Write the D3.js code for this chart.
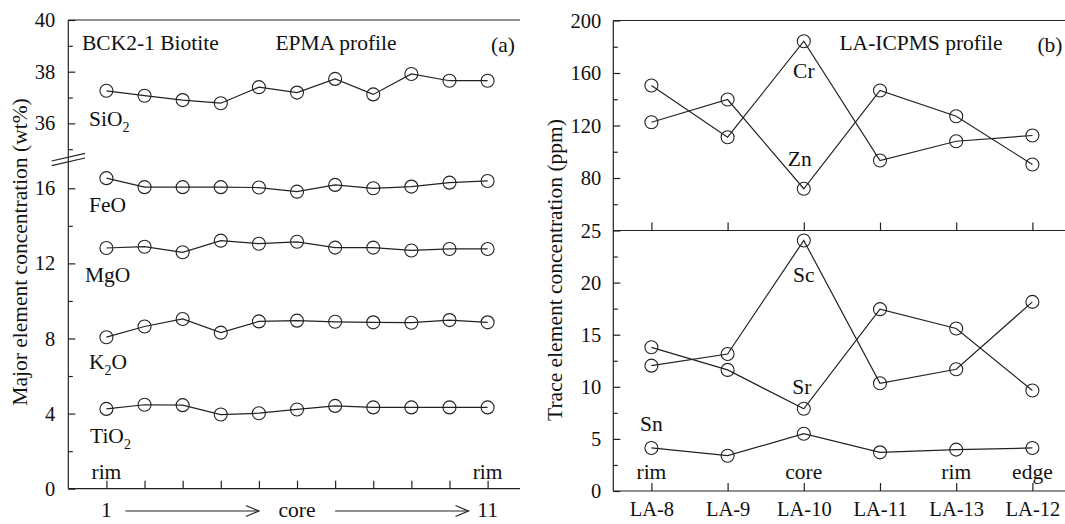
<!DOCTYPE html>
<html>
<head>
<meta charset="utf-8">
<script src="https://cdn.jsdelivr.net/npm/d3@7"></script>
<style>
  body { margin: 0; background: #fff; }
  svg { display: block; font-family: "Liberation Serif", "Times New Roman", serif; }
  .axis path, .axis line { stroke: #222; stroke-width: 1.2; }
  .axis text { font-size: 20.5px; fill: #111; font-family: "Liberation Serif", serif; }
  .series { fill: none; stroke: #222; stroke-width: 1.2; }
  .dot { fill: none; stroke: #222; stroke-width: 1.1; }
  .lbl { font-size: 21.5px; fill: #111; }
</style>
</head>
<body>
<div id="chart"></div>
<script>
// panel (a) - EPMA profile, points 1..11
const points = d3.range(1, 12);
const sio2 = [37.26, 37.07, 36.90, 36.78, 37.40, 37.19, 37.72, 37.12, 37.91, 37.65, 37.65];
const feo  = [16.54, 16.06, 16.06, 16.06, 16.04, 15.82, 16.18, 16.00, 16.09, 16.30, 16.39];
const mgo  = [12.82, 12.89, 12.59, 13.21, 13.05, 13.15, 12.84, 12.84, 12.69, 12.77, 12.77];
const k2o  = [8.07, 8.64, 9.04, 8.31, 8.91, 8.95, 8.89, 8.86, 8.84, 8.98, 8.86];
const tio2 = [4.25, 4.47, 4.45, 3.95, 4.02, 4.22, 4.41, 4.33, 4.33, 4.33, 4.33];

// panel (b) - LA-ICPMS profile
const spots = ['LA-8', 'LA-9', 'LA-10', 'LA-11', 'LA-13', 'LA-12'];
const cr = [150.5, 111.1, 184.2, 93.3, 108.0, 112.4];
const zn = [122.5, 139.8, 71.8, 146.7, 127.1, 90.3];
const sc = [12.03, 13.15, 24.04, 10.34, 11.68, 18.15];
const sr = [13.79, 11.62, 7.89, 17.45, 15.60, 9.64];
const sn = [4.13, 3.39, 5.50, 3.71, 3.97, 4.13];

const W = 1065, H = 524;
const svg = d3.select('#chart').append('svg')
    .attr('width', W)
    .attr('height', H);

const R = 6.5;

function drawSeries(g, xs, x, y, vals) {
    const data = xs.map((d, i) => ({ x: d, v: vals[i] }));
    g.append('path')
        .datum(data)
        .attr('class', 'series')
        .attr('d', d3.line().x(d => x(d.x)).y(d => y(d.v)));
    g.selectAll(null)
        .data(data)
        .enter().append('circle')
        .attr('class', 'dot')
        .attr('cx', d => x(d.x))
        .attr('cy', d => y(d.v))
        .attr('r', R);
}

function yAxis(g, x0, scale, major, minor, pad) {
    g.append('g')
        .attr('class', 'axis')
        .attr('transform', `translate(${x0},0)`)
        .call(d3.axisLeft(scale).tickValues(major).tickSize(-7).tickPadding(pad).tickFormat(d3.format('d')))
        .call(a => a.select('.domain').remove());
    g.append('g')
        .attr('class', 'axis')
        .attr('transform', `translate(${x0},0)`)
        .call(d3.axisLeft(scale).tickValues(minor).tickSize(-4.5).tickFormat(''))
        .call(a => a.select('.domain').remove());
}

function hline(g, x1, x2, y) {
    g.append('line').attr('x1', x1).attr('x2', x2).attr('y1', y).attr('y2', y)
        .attr('stroke', '#222').attr('stroke-width', 1.2);
}
function vline(g, x, y1, y2) {
    g.append('line').attr('x1', x).attr('x2', x).attr('y1', y1).attr('y2', y2)
        .attr('stroke', '#222').attr('stroke-width', 1.2);
}

function chem(g, x, y, base, sub, rest) {
    const t = g.append('text').attr('class', 'lbl').attr('x', x).attr('y', y);
    t.append('tspan').text(base);
    if (sub) {
        t.append('tspan').text(sub).attr('dy', 6).attr('font-size', 14);
        if (rest) t.append('tspan').text(rest).attr('dy', -6);
    }
    return t;
}

// ---------- panel (a) ----------
const ga = svg.append('g');
const xa = d3.scaleLinear().domain([0, 11.85]).range([68.3, 520]);
const yUp = d3.scaleLinear().domain([34.62, 40]).range([159, 20]);
const yLo = d3.scaleLinear().domain([0, 17.56]).range([488.7, 159]);

// frame
vline(ga, xa(0), yUp(40), yLo(0));
hline(ga, xa(0), xa(11.85), yUp(40));
hline(ga, xa(0), xa(11.85), yLo(0));

yAxis(ga, xa(0), yUp, [36, 38, 40], [35, 37, 39], 13);
yAxis(ga, xa(0), yLo, [0, 4, 8, 12, 16], [2, 6, 10, 14], 13);

// axis break marks
[0, 4.7].forEach(off => {
    ga.append('line')
        .attr('x1', xa(0) - 16.6).attr('y1', 161 + off)
        .attr('x2', xa(0) + 16.7).attr('y2', 153.3 + off)
        .attr('stroke', '#222').attr('stroke-width', 1.2);
});

// bottom ticks (inside)
ga.append('g')
    .attr('class', 'axis')
    .attr('transform', `translate(0,${yLo(0)})`)
    .call(d3.axisBottom(xa).tickValues(points).tickSize(-8).tickFormat(''))
    .call(a => a.select('.domain').remove());

drawSeries(ga, points, xa, yUp, sio2);
drawSeries(ga, points, xa, yLo, feo);
drawSeries(ga, points, xa, yLo, mgo);
drawSeries(ga, points, xa, yLo, k2o);
drawSeries(ga, points, xa, yLo, tio2);

chem(ga, 89, 126, 'SiO', '2');
chem(ga, 89, 212, 'FeO');
chem(ga, 85, 282, 'MgO');
chem(ga, 89, 369, 'K', '2', 'O');
chem(ga, 90, 443, 'TiO', '2');

ga.append('text').attr('class', 'lbl').attr('x', 82).attr('y', 50).text('BCK2-1 Biotite');
ga.append('text').attr('class', 'lbl').attr('x', 336).attr('y', 50).attr('text-anchor', 'middle').text('EPMA profile');
ga.append('text').attr('class', 'lbl').attr('x', 503).attr('y', 52).attr('text-anchor', 'middle')
    .attr('font-size', 26).text('(a)');

ga.append('text').attr('class', 'lbl').attr('x', xa(1)).attr('y', 479).attr('text-anchor', 'middle').text('rim');
ga.append('text').attr('class', 'lbl').attr('x', xa(11)).attr('y', 479).attr('text-anchor', 'middle').text('rim');

// x legend: 1 ---> core ---> 11
ga.append('text').attr('class', 'lbl').attr('x', xa(1)).attr('y', 517).attr('text-anchor', 'middle').text('1');
ga.append('text').attr('class', 'lbl').attr('x', xa(6)).attr('y', 517).attr('text-anchor', 'middle').text('core');
ga.append('text').attr('class', 'lbl').attr('x', xa(11)).attr('y', 517).attr('text-anchor', 'middle').text('11');
[[1.5, 5], [7, 10.5]].forEach(([a, b]) => {
    const ya = 511;
    hline(ga, xa(a), xa(b), ya);
    ga.append('path')
        .attr('d', `M${xa(b) - 13},${ya - 5.5}L${xa(b)},${ya}L${xa(b) - 13},${ya + 5.5}`)
        .attr('fill', 'none').attr('stroke', '#222').attr('stroke-width', 1.2);
});

ga.append('text').attr('class', 'lbl')
    .attr('transform', `translate(27,252) rotate(-90)`)
    .attr('text-anchor', 'middle')
    .text('Major element concentration (wt%)');

// ---------- panel (b) ----------
const gb = svg.append('g');
const xb = d3.scalePoint().domain(spots).range([613.3, 1070.5]).padding(0.5);
const yTop = d3.scaleLinear().domain([40, 200]).range([230.5, 20.5]);
const yBot = d3.scaleLinear().domain([0, 25]).range([491, 230.5]);

vline(gb, 613.3, 20.5, 491);
hline(gb, 613.3, W, 20.5);
hline(gb, 613.3, W, 230.5);
hline(gb, 613.3, W, 491);

yAxis(gb, 613.3, yTop, [80, 120, 160, 200], [60, 100, 140, 180], 12);
yAxis(gb, 613.3, yBot, [0, 5, 10, 15, 20, 25], [2.5, 7.5, 12.5, 17.5, 22.5], 12);

gb.append('g')
    .attr('class', 'axis')
    .attr('transform', `translate(0,${yTop(40)})`)
    .call(d3.axisBottom(xb).tickSize(-8).tickFormat(''))
    .call(a => a.select('.domain').remove());
gb.append('g')
    .attr('class', 'axis')
    .attr('transform', `translate(0,${yBot(0)})`)
    .call(d3.axisBottom(xb).tickSize(-8).tickPadding(10))
    .call(a => a.select('.domain').remove());

drawSeries(gb, spots, xb, yTop, cr);
drawSeries(gb, spots, xb, yTop, zn);
drawSeries(gb, spots, xb, yBot, sc);
drawSeries(gb, spots, xb, yBot, sr);
drawSeries(gb, spots, xb, yBot, sn);

const lb = (x, y, t, anchor) => gb.append('text').attr('class', 'lbl')
    .attr('x', x).attr('y', y).attr('text-anchor', anchor || 'middle').text(t);
lb(xb('LA-10'), 78, 'Cr');
lb(xb('LA-10') - 4, 166, 'Zn');
lb(xb('LA-10'), 282, 'Sc');
lb(xb('LA-10') - 2, 394, 'Sr');
lb(xb('LA-8'), 431, 'Sn');
lb(xb('LA-8'), 479, 'rim');
lb(xb('LA-10'), 479, 'core');
lb(xb('LA-13'), 479, 'rim');
lb(xb('LA-12'), 479, 'edge');
lb(921, 50, 'LA-ICPMS profile');
gb.append('text').attr('class', 'lbl').attr('x', 1050).attr('y', 52).attr('text-anchor', 'middle')
    .attr('font-size', 26).text('(b)');

gb.append('text').attr('class', 'lbl')
    .attr('transform', `translate(562,270) rotate(-90)`)
    .attr('text-anchor', 'middle')
    .text('Trace element concentration (ppm)');
</script>
</body>
</html>
